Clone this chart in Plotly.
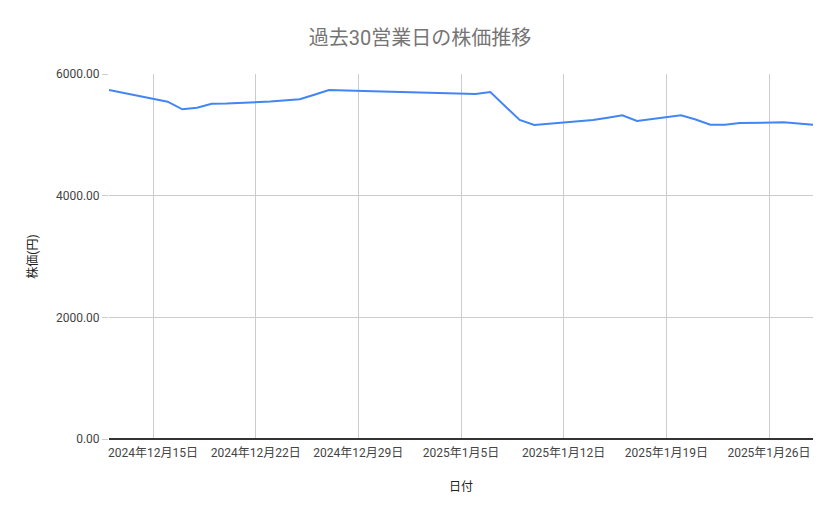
import plotly.graph_objects as go

dates = [
    "2024-12-12", "2024-12-13", "2024-12-16", "2024-12-17", "2024-12-18",
    "2024-12-19", "2024-12-20", "2024-12-23", "2024-12-24", "2024-12-25",
    "2024-12-26", "2024-12-27", "2024-12-30", "2025-01-06", "2025-01-07",
    "2025-01-08", "2025-01-09", "2025-01-10", "2025-01-14", "2025-01-15",
    "2025-01-16", "2025-01-17", "2025-01-20", "2025-01-21", "2025-01-22",
    "2025-01-23", "2025-01-24", "2025-01-27", "2025-01-28", "2025-01-29",
]
prices = [
    5737, 5688, 5545, 5420, 5446,
    5512, 5515, 5548, 5564, 5584,
    5660, 5737, 5717, 5671, 5704,
    5474, 5244, 5162, 5244, 5282,
    5321, 5227, 5321, 5252, 5167,
    5167, 5194, 5206, 5186, 5167,
]

fig = go.Figure()
fig.add_trace(go.Scatter(
    x=dates, y=prices, mode="lines",
    line=dict(color="#4285F4", width=2),
))

# page body has an 8px margin, so the margins are shifted to compensate
fig.update_layout(
    title=dict(text="過去30営業日の株価推移", x=0.491, xanchor="center",
               y=0.942, yanchor="middle",
               font=dict(family="Roboto, Noto Sans CJK JP", size=20, color="#757575")),
    font=dict(family="Roboto, Noto Sans CJK JP", size=12, color="#444444"),
    width=839, height=519,
    margin=dict(l=101, r=34, t=66, b=88),
    paper_bgcolor="white",
    plot_bgcolor="white",
    showlegend=False,
)

fig.update_xaxes(
    type="date",
    range=["2024-12-12", "2025-01-29"],
    tick0="2024-12-15", dtick=7 * 86400000,
    tickformat="%Y年%-m月%-d日",
    showgrid=True, gridcolor="#cccccc", gridwidth=1,
    showline=False, zeroline=False,
    ticks="", ticklabelstandoff=5,
    tickfont=dict(size=12, color="#444444"),
    title=dict(text="日付", font=dict(size=12, color="#222222"), standoff=23),
)
fig.update_yaxes(
    range=[0, 6000],
    tickvals=[0, 2000, 4000, 6000],
    tickformat=".2f",
    showgrid=True, gridcolor="#cccccc", gridwidth=1,
    zeroline=True, zerolinecolor="#333333", zerolinewidth=1.5,
    ticks="outside", ticklen=6, tickcolor="#cccccc",
    tickfont=dict(size=12, color="#444444"),
    title=dict(text="株価(円)", font=dict(size=12, color="#222222"), standoff=15),
)

fig.write_html("out.html")
